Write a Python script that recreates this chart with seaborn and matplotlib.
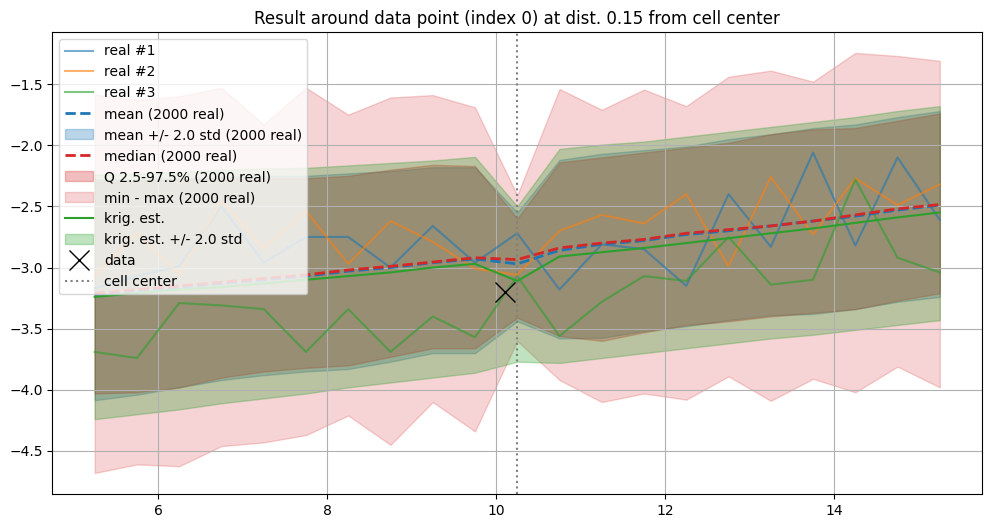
import numpy as np
import matplotlib
matplotlib.use("Agg")
import matplotlib.pyplot as plt
import seaborn as sns

# positions le long du profil
x_pos = [5.25, 5.75, 6.25, 6.75, 7.25, 7.75, 8.25, 8.75, 9.25, 9.75, 10.25,
         10.75, 11.25, 11.75, 12.25, 12.75, 13.25, 13.75, 14.25, 14.75, 15.25]

# realisations
real1 = [-3.17, -3.07, -2.99, -2.50, -2.96, -2.75, -2.75, -3.00, -2.66, -2.96, -2.72,
         -3.18, -2.81, -2.85, -3.15, -2.40, -2.83, -2.06, -2.82, -2.10, -2.61]
real2 = [-3.07, -2.72, -3.05, -2.46, -2.84, -2.54, -2.97, -2.62, -2.79, -3.01, -3.06,
         -2.70, -2.57, -2.64, -2.40, -2.99, -2.26, -2.73, -2.27, -2.49, -2.32]
real3 = [-3.69, -3.74, -3.29, -3.31, -3.34, -3.69, -3.34, -3.69, -3.40, -3.57, -3.07,
         -3.56, -3.28, -3.07, -3.11, -2.75, -3.14, -3.10, -2.28, -2.92, -3.04]

# statistiques sur 2000 realisations
mean_ = [-3.22, -3.19, -3.16, -3.13, -3.10, -3.07, -3.03, -3.00, -2.96, -2.93, -2.97,
         -2.86, -2.81, -2.78, -2.73, -2.70, -2.66, -2.62, -2.58, -2.53, -2.49]
median_ = [-3.21, -3.18, -3.15, -3.12, -3.09, -3.06, -3.02, -2.99, -2.955, -2.92, -2.935,
           -2.84, -2.80, -2.77, -2.72, -2.69, -2.66, -2.62, -2.57, -2.52, -2.485]
sd_hi = [-2.28, -2.28, -2.27, -2.26, -2.25, -2.25, -2.23, -2.21, -2.18, -2.18, -2.55,
         -2.12, -2.07, -2.04, -2.01, -1.95, -1.91, -1.86, -1.83, -1.77, -1.72]
sd_lo = [-4.085, -4.04, -3.98, -3.92, -3.88, -3.85, -3.83, -3.77, -3.70, -3.70, -3.44,
         -3.58, -3.575, -3.52, -3.48, -3.43, -3.39, -3.38, -3.34, -3.28, -3.24]
q_hi = [-2.30, -2.29, -2.28, -2.27, -2.27, -2.27, -2.25, -2.20, -2.16, -2.17, -2.60,
        -2.14, -2.10, -2.06, -2.02, -1.98, -1.91, -1.87, -1.86, -1.80, -1.74]
q_lo = [-4.03, -4.02, -3.98, -3.90, -3.85, -3.82, -3.80, -3.73, -3.66, -3.66, -3.41,
        -3.56, -3.60, -3.53, -3.47, -3.44, -3.40, -3.37, -3.34, -3.27, -3.21]
mm_hi = [-1.585, -1.63, -1.60, -1.53, -1.83, -1.53, -1.75, -1.61, -1.59, -1.69, -2.41,
         -1.54, -1.71, -1.545, -1.68, -1.44, -1.39, -1.48, -1.245, -1.27, -1.31]
mm_lo = [-4.68, -4.61, -4.625, -4.46, -4.43, -4.37, -4.21, -4.45, -4.10, -4.34, -3.60,
         -3.92, -4.10, -4.03, -4.08, -3.89, -4.09, -3.91, -4.02, -3.81, -3.98]

# krigeage
krig = [-3.24, -3.21, -3.18, -3.16, -3.13, -3.10, -3.07, -3.04, -3.00, -2.97, -3.11,
        -2.91, -2.875, -2.84, -2.80, -2.76, -2.72, -2.68, -2.635, -2.59, -2.55]
kr_hi = [-2.24, -2.23, -2.22, -2.20, -2.19, -2.185, -2.165, -2.145, -2.125, -2.095, -2.50,
         -2.03, -1.995, -1.97, -1.93, -1.89, -1.85, -1.81, -1.77, -1.72, -1.68]
kr_lo = [-4.24, -4.20, -4.16, -4.11, -4.07, -4.03, -3.98, -3.94, -3.90, -3.86, -3.77,
         -3.78, -3.74, -3.70, -3.66, -3.62, -3.58, -3.55, -3.51, -3.47, -3.43]

# point de donnee et centre de cellule
data_x = [10.1]
data_y = [-3.2]
cell_center = 10.25

fig = plt.figure(figsize=(9.93, 5.28), dpi=100)
ax = fig.add_axes([0.0528, 0.0644, 0.9362, 0.8752])

sns.lineplot(x=x_pos, y=real1, color="C0", alpha=0.6, lw=1.5, label="real #1", ax=ax)
sns.lineplot(x=x_pos, y=real2, color="C1", alpha=0.6, lw=1.5, label="real #2", ax=ax)
sns.lineplot(x=x_pos, y=real3, color="C2", alpha=0.6, lw=1.5, label="real #3", ax=ax)

sns.lineplot(x=x_pos, y=mean_, color="C0", ls="--", lw=2, label="mean (2000 real)", ax=ax)
ax.fill_between(x_pos, sd_lo, sd_hi, color="C0", alpha=0.3, label="mean +/- 2.0 std (2000 real)")
sns.lineplot(x=x_pos, y=median_, color="C3", ls="--", lw=2, label="median (2000 real)", ax=ax)
ax.fill_between(x_pos, q_lo, q_hi, color="C3", alpha=0.3, label="Q 2.5-97.5% (2000 real)")
ax.fill_between(x_pos, mm_lo, mm_hi, color="C3", alpha=0.2, label="min - max (2000 real)")

sns.lineplot(x=x_pos, y=krig, color="C2", lw=1.5, label="krig. est.", ax=ax)
ax.fill_between(x_pos, kr_lo, kr_hi, color="C2", alpha=0.3, label="krig. est. +/- 2.0 std")

ax.plot(data_x, data_y, "x", color="k", ms=15, label="data")
ax.axvline(cell_center, color="gray", ls=":", label="cell center")

ax.grid()
ax.set_title("Result around data point (index 0) at dist. 0.15 from cell center")
ax.legend(loc="upper left")

fig.savefig("out.png", dpi=100)
